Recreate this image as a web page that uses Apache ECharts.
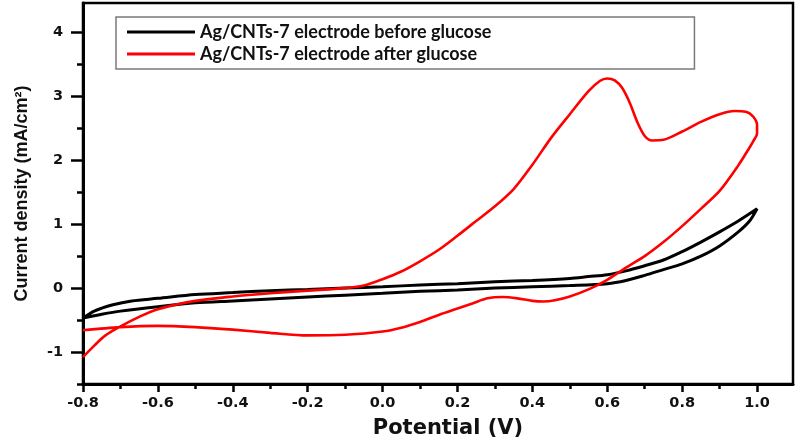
<!DOCTYPE html>
<html>
<head>
<meta charset="utf-8">
<script src="https://cdn.jsdelivr.net/npm/echarts@6/dist/echarts.min.js"></script>
<style>
html,body{margin:0;padding:0;background:#fff;}
#chart{width:800px;height:440px;}
</style>
</head>
<body>
<div id="chart"></div>
<script>
// ---- data ----
const seriesNames = ['Ag/CNTs-7 electrode before glucose', 'Ag/CNTs-7 electrode after glucose'];

// Before glucose (black), potential (V)
const beforeV = [-0.8,-0.77,-0.72,-0.67,-0.6,-0.5,-0.4,-0.3,-0.2,-0.1,0.0,0.1,0.2,0.3,0.4,0.5,0.55,0.6,0.65,0.7,0.75,0.8,0.85,0.9,0.95,1.0,
  0.98,0.95,0.9,0.85,0.8,0.75,0.7,0.65,0.6,0.5,0.4,0.3,0.2,0.1,0.0,-0.1,-0.2,-0.3,-0.4,-0.5,-0.6,-0.7,-0.75,-0.8];
// current density (mA/cm2)
const beforeJ = [-0.47,-0.36,-0.26,-0.2,-0.16,-0.1,-0.07,-0.04,-0.02,0.0,0.02,0.05,0.07,0.1,0.12,0.15,0.18,0.21,0.27,0.35,0.44,0.57,0.72,0.88,1.05,1.24,
  1.05,0.88,0.66,0.5,0.38,0.29,0.2,0.12,0.07,0.04,0.02,0.0,-0.03,-0.05,-0.08,-0.11,-0.14,-0.17,-0.2,-0.23,-0.29,-0.36,-0.41,-0.47];

// After glucose (red)
const afterV = [-0.8,-0.77,-0.74,-0.7,-0.65,-0.6,-0.5,-0.4,-0.3,-0.2,-0.1,-0.05,0.0,0.05,0.1,0.15,0.2,0.25,0.3,0.35,0.4,0.45,0.5,0.55,0.58,0.6,0.62,0.64,0.66,0.68,0.7,0.72,0.75,0.8,0.85,0.9,0.94,0.97,0.99,1.0,
  1.0,0.99,0.98,0.95,0.9,0.85,0.8,0.75,0.7,0.65,0.6,0.55,0.5,0.46,0.43,0.4,0.36,0.32,0.28,0.24,0.2,0.15,0.1,0.05,0.0,-0.1,-0.2,-0.3,-0.4,-0.5,-0.6,-0.7,-0.8];
const afterJ = [-1.08,-0.9,-0.74,-0.6,-0.45,-0.33,-0.2,-0.13,-0.08,-0.04,0.0,0.04,0.14,0.26,0.42,0.6,0.82,1.05,1.28,1.55,1.93,2.35,2.72,3.08,3.24,3.28,3.25,3.13,2.9,2.6,2.38,2.31,2.32,2.45,2.6,2.72,2.77,2.76,2.68,2.55,
  2.42,2.3,2.2,1.92,1.52,1.24,0.97,0.72,0.5,0.32,0.13,-0.02,-0.13,-0.19,-0.21,-0.2,-0.16,-0.14,-0.16,-0.24,-0.32,-0.42,-0.53,-0.62,-0.68,-0.73,-0.74,-0.7,-0.65,-0.61,-0.59,-0.61,-0.66];

// axis ticks
const xTickLabels = [-0.8,-0.6,-0.4,-0.2,0.0,0.2,0.4,0.6,0.8,1.0];
const xMinorTicks = [-0.7,-0.5,-0.3,-0.1,0.1,0.3,0.5,0.7,0.9];
const yTickLabels = [-1,0,1,2,3,4];
const yMinorTicks = [-1.5,-0.5,0.5,1.5,2.5,3.5];

const xName = 'Potential (V)';
const yName = 'Current density (mA/cm²)';

function zip(a, b){ return a.map((v,i)=>[v,b[i]]); }

const chart = echarts.init(document.getElementById('chart'), null, {renderer:'canvas'});
const tickFont = {fontFamily:'DejaVu Sans', fontWeight:'bold', fontSize:14.5, color:'#111'};
const X_MIN = -0.8, X_MAX = 1.096, Y_MIN = -1.5, Y_MAX = 4.46;

chart.setOption({
  animation:false,
  backgroundColor:'#fff',
  grid:{left:83, right:7, top:3, bottom:56, outerBoundsMode:'none', containLabel:false,
        show:true, borderColor:'#000', borderWidth:2.5, backgroundColor:'transparent'},
  legend:{
    data:seriesNames,
    orient:'vertical',
    left:116, top:17,
    padding:[6,203,6,11],
    itemGap:4,
    itemWidth:68, itemHeight:3,
    icon:'rect',
    borderColor:'#7a7a7a', borderWidth:1.5,
    textStyle:{fontFamily:'Lato', fontWeight:'bold', fontSize:18, color:'#111', lineHeight:18}
  },
  xAxis:[{
    type:'value', min:X_MIN, max:X_MAX,
    name:xName, nameLocation:'middle', nameGap:34,
    nameTextStyle:{fontFamily:'DejaVu Sans', fontWeight:'bold', fontSize:21, color:'#111', padding:[0,0,0,20]},
    axisLine:{show:true, onZero:false, lineStyle:{color:'#000', width:3}},
    axisTick:{show:true, inside:false, length:8, customValues:xTickLabels, lineStyle:{color:'#000', width:2.5}},
    axisLabel:{show:true, margin:12, customValues:xTickLabels, formatter:v=>v.toFixed(1), ...tickFont},
    splitLine:{show:false}
  },{
    type:'value', min:X_MIN, max:X_MAX, position:'bottom',
    axisLine:{show:false, onZero:false},
    axisTick:{show:true, inside:false, length:5, customValues:xMinorTicks, lineStyle:{color:'#000', width:2.5}},
    axisLabel:{show:false}, splitLine:{show:false}
  }],
  yAxis:[{
    type:'value', min:Y_MIN, max:Y_MAX,
    name:yName, nameLocation:'middle', nameGap:52, nameRotate:90,
    nameTextStyle:{fontFamily:'Liberation Sans', fontWeight:'bold', fontSize:18, color:'#111'},
    axisLine:{show:true, onZero:false, lineStyle:{color:'#000', width:3}},
    axisTick:{show:true, inside:false, length:12, customValues:yTickLabels, lineStyle:{color:'#000', width:2.5}},
    axisLabel:{show:true, margin:20, customValues:yTickLabels, formatter:v=>String(v), ...tickFont},
    splitLine:{show:false}
  },{
    type:'value', min:Y_MIN, max:Y_MAX, position:'left',
    axisLine:{show:false, onZero:false},
    axisTick:{show:true, inside:false, length:6, customValues:yMinorTicks, lineStyle:{color:'#000', width:2.5}},
    axisLabel:{show:false}, splitLine:{show:false}
  }],
  series:[{
    name:seriesNames[0], type:'line', xAxisIndex:0, yAxisIndex:0,
    data:zip(beforeV, beforeJ), showSymbol:false, symbol:'none', smooth:0.3,
    lineStyle:{color:'#000', width:3}, itemStyle:{color:'#000'}, z:2
  },{
    name:seriesNames[1], type:'line', xAxisIndex:0, yAxisIndex:0,
    data:zip(afterV, afterJ), showSymbol:false, symbol:'none', smooth:0.3,
    lineStyle:{color:'#ff0000', width:2.6}, itemStyle:{color:'#ff0000'}, z:3
  }]
});
</script>
</body>
</html>
